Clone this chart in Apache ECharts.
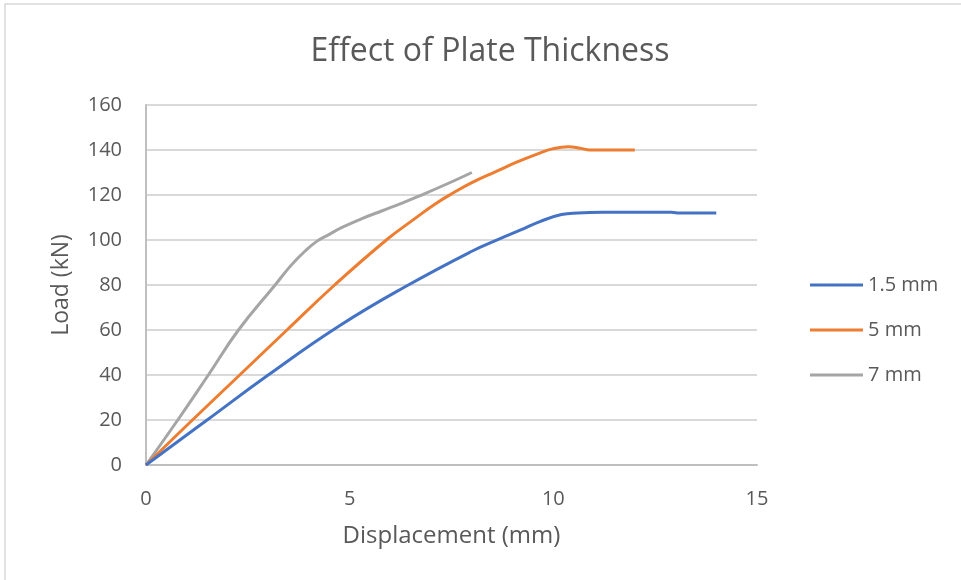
<!DOCTYPE html>
<html>
<head>
<meta charset="utf-8">
<script src="https://cdn.jsdelivr.net/npm/echarts@6/dist/echarts.min.js"></script>
<style>
  html, body { margin: 0; padding: 0; background: #ffffff; }
  #chart { width: 961px; height: 580px; }
</style>
</head>
<body>
<div id="chart"></div>
<script>
// Load–displacement curves for three plate thicknesses
const seriesNames = ['1.5 mm', '5 mm', '7 mm'];
const seriesColors = ['#4472C4', '#ED7D31', '#A5A5A5'];

// 1.5 mm plate
const disp15 = [0, 1.5, 3.0, 4.76, 6.44, 8.0, 8.65, 9.2, 9.67, 10.2, 10.6, 11.2, 12.9, 13.1, 14.0];
const load15 = [0, 20, 40, 62, 80, 95, 100.3, 104.5, 108.2, 111.3, 112, 112.3, 112.3, 112, 112];

// 5 mm plate
const disp5 = [0, 1.14, 2.3, 3.46, 4.63, 5.9, 6.6, 7.1, 7.55, 8.0, 8.6, 9.1, 9.6, 10.0, 10.37, 10.66, 10.9, 12.0];
const load5 = [0, 20, 40, 60, 80, 100, 109.5, 116, 121, 125.5, 130.5, 134.6, 138.2, 140.6, 141.5, 140.8, 140, 140];

// 7 mm plate
const disp7 = [0, 0.78, 1.53, 2.27, 3.17, 3.55, 3.9, 4.2, 4.5, 4.8, 5.3, 5.8, 6.3, 6.7, 7.4, 8.0];
const load7 = [0, 20, 40, 60, 80, 88.5, 95, 99.5, 102.5, 105.5, 109.5, 113, 116.5, 119.5, 125, 130];

// Axis ticks
const xTicks = [0, 5, 10, 15];
const yTicks = [0, 20, 40, 60, 80, 100, 120, 140, 160];

const pairs = (xs, ys) => xs.map((x, i) => [x, ys[i]]);
const curves = [pairs(disp15, load15), pairs(disp5, load5), pairs(disp7, load7)];

const FONT = '"Open Sans", sans-serif';
const TEXT = '#595959';

const chart = echarts.init(document.getElementById('chart'), null, { renderer: 'canvas' });

chart.setOption({
  backgroundColor: '#ffffff',
  animation: false,
  title: {
    text: 'Effect of Plate Thickness',
    left: 485,
    top: 31,
    textAlign: 'center',
    textStyle: { fontFamily: FONT, fontSize: 32, fontWeight: 'normal', color: TEXT }
  },
  graphic: [{
    type: 'rect',
    shape: { x: 5, y: 4, width: 1200, height: 900 },
    style: { fill: 'none', stroke: '#d9d9d9', lineWidth: 1.5 },
    silent: true
  }],
  legend: {
    orient: 'vertical',
    left: 810,
    top: 275,
    padding: 0,
    icon: 'path://M0,0 L53,0 L53,3 L0,3 Z',
    itemWidth: 53,
    itemHeight: 20,
    itemGap: 25,
    data: seriesNames,
    textStyle: { fontFamily: FONT, fontSize: 20, color: TEXT }
  },
  grid: { left: 146, right: 204, top: 105, bottom: 115 },
  xAxis: {
    type: 'value',
    min: xTicks[0],
    max: xTicks[xTicks.length - 1],
    interval: 5,
    name: 'Displacement (mm)',
    nameLocation: 'middle',
    nameGap: 59,
    nameTextStyle: { fontFamily: FONT, fontSize: 24, color: TEXT },
    axisLine: { show: true, lineStyle: { color: '#bfbfbf', width: 2 } },
    axisTick: { show: false },
    axisLabel: { margin: 24, fontFamily: FONT, fontSize: 20, color: TEXT },
    splitLine: { show: false }
  },
  yAxis: {
    type: 'value',
    min: yTicks[0],
    max: yTicks[yTicks.length - 1],
    interval: 20,
    name: 'Load (kN)',
    nameLocation: 'middle',
    nameGap: 73,
    nameRotate: 90,
    nameTextStyle: { fontFamily: FONT, fontSize: 23, color: TEXT },
    axisLine: { show: true, lineStyle: { color: '#bfbfbf', width: 2 } },
    axisTick: { show: false },
    axisLabel: { margin: 24, fontFamily: FONT, fontSize: 20, color: TEXT },
    splitLine: { show: true, lineStyle: { color: '#d9d9d9', width: 2 } }
  },
  series: curves.map((data, i) => ({
    name: seriesNames[i],
    type: 'line',
    data: data,
    symbol: 'none',
    smooth: 0.45,
    lineStyle: { color: seriesColors[i], width: 3 },
    itemStyle: { color: seriesColors[i] },
    z: 3 - i
  }))
});
</script>
</body>
</html>
